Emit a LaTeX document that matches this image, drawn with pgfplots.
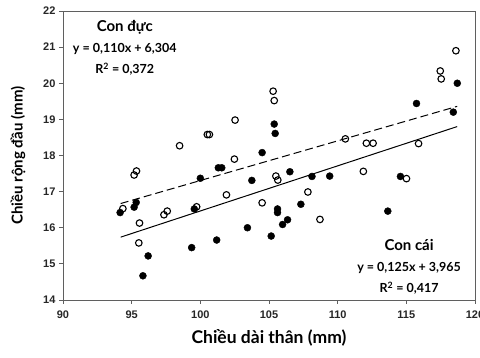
\documentclass[border=0pt]{standalone}
\usepackage{fontspec}
\setmainfont{Lato}
\newfontfamily\tickfont{Liberation Sans}
\usepackage{pgfplots}
\pgfplotsset{compat=1.18}
\definecolor{framegray}{RGB}{95,95,95}
\begin{document}
\begin{tikzpicture}
\begin{axis}[
  name=ax,
  scale only axis,
  width=412pt, height=289pt,
  xmin=90, xmax=120, ymin=14, ymax=22,
  xtick={90,95,100,105,110,115,120},
  ytick={14,15,16,17,18,19,20,21,22},
  tick pos=left,
  tick align=outside,
  major tick length=4pt,
  axis line style={framegray, line width=0.9pt},
  tick style={framegray, line width=0.9pt},
  /pgf/number format/assume math mode=true,
  ticklabel style={font=\tickfont\bfseries\fontsize{11}{13}\selectfont, text=black!85},
  xticklabel style={yshift=-3pt},
  xlabel={Chiều dài thân (mm)},
  ylabel={Chiều rộng đầu (mm)},
  every axis x label/.style={at={(axis description cs:0.5,0)}, yshift=-38pt, anchor=center, font=\bfseries\fontsize{17.5}{20}\selectfont},
  every axis y label/.style={at={(axis description cs:0,0.5)}, xshift=-45pt, rotate=90, anchor=center, font=\bfseries\fontsize{15}{18}\selectfont},
  clip=false,
]
% Con cai (filled)
\addplot[only marks, mark=*, mark size=3.5pt, mark options={fill=black, draw=black}] coordinates {
(94.16,16.42) (95.18,16.57) (95.33,16.70) (96.20,15.22) (95.82,14.67)
(99.37,15.45) (99.56,16.52) (100.00,17.37) (101.19,15.66) (101.31,17.66)
(101.56,17.66) (103.43,16.00) (103.75,17.31) (104.50,18.08) (105.16,15.77)
(105.38,18.87) (105.45,18.61) (105.62,16.52) (105.62,16.42) (105.99,16.09)
(106.35,16.22) (106.52,17.55) (107.32,16.65) (108.13,17.42) (109.42,17.43)
(113.65,16.46) (114.57,17.42) (115.74,19.44) (118.42,19.20) (118.71,20.00)
};
% Con duc (open)
\addplot[only marks, mark=o, mark size=3.3pt, mark options={draw=black, line width=1.1pt, fill=white}] coordinates {
(94.36,16.53) (95.18,17.46) (95.35,17.57) (95.57,16.13) (95.52,15.58)
(97.35,16.36) (97.59,16.46) (98.49,18.27) (99.73,16.58) (100.51,18.58)
(100.66,18.58) (101.90,16.91) (102.48,17.90) (102.53,18.98) (104.50,16.69)
(105.30,19.78) (105.38,19.52) (105.50,17.43) (105.64,17.32) (107.83,16.99)
(108.71,16.23) (110.56,18.46) (111.87,17.56) (112.09,18.34) (112.58,18.34)
(115.01,17.36) (115.89,18.33) (117.47,20.34) (117.54,20.12) (118.61,20.90)
};
% regression lines
\addplot[black, line width=1pt] coordinates {(94.2,15.74) (118.7,18.80)};
\addplot[black, line width=1pt, dash pattern=on 8pt off 4pt] coordinates {(94.2,16.67) (118.7,19.36)};
% annotations
\node[align=center, font=\bfseries\fontsize{12.5}{21}\selectfont, anchor=center] at (axis cs:94.5,20.97) {{\fontsize{15}{21}\selectfont Con đực}\\y = 0,110x + 6,304\\R\textsuperscript{2} = 0,372};
\node[align=center, font=\bfseries\fontsize{12.5}{21}\selectfont, anchor=center] at (axis cs:115.2,14.91) {{\fontsize{15}{21}\selectfont Con cái}\\y = 0,125x + 3,965\\R\textsuperscript{2} = 0,417};
\end{axis}
\pgfresetboundingbox
\path[use as bounding box] ([xshift=-63pt,yshift=-58pt]ax.south west) rectangle ([xshift=5pt,yshift=11pt]ax.north east);
\end{tikzpicture}
\end{document}
